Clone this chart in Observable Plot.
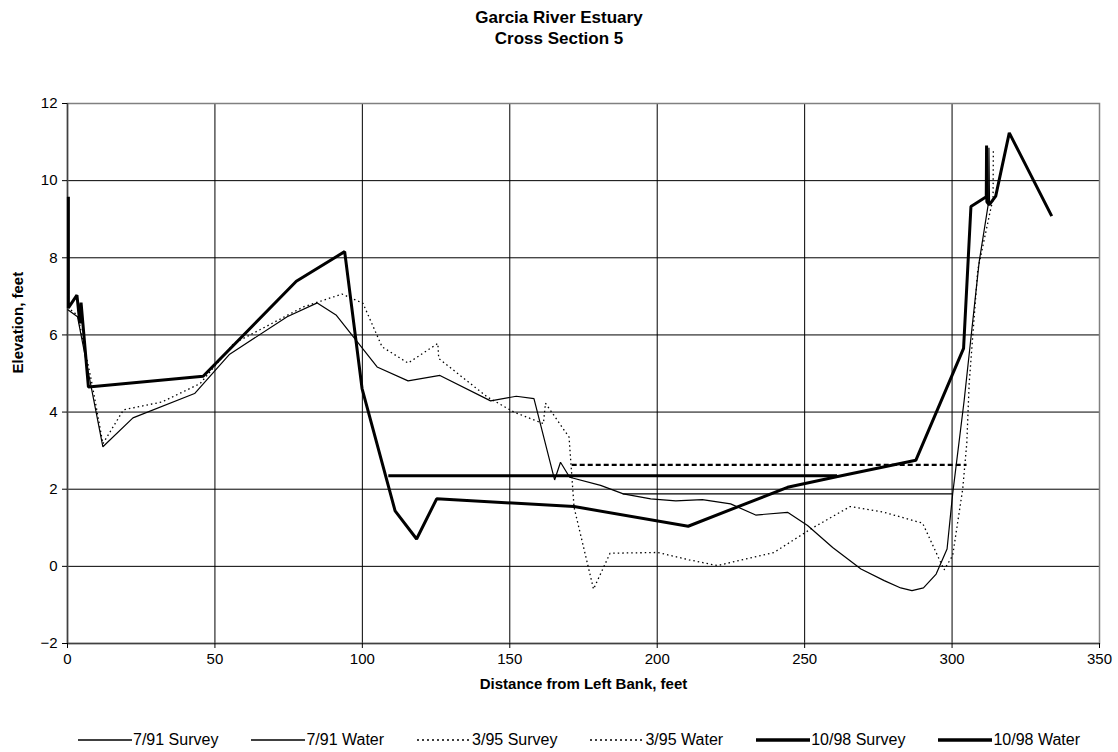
<!DOCTYPE html>
<html>
<head>
<meta charset="utf-8">
<script src="https://cdn.jsdelivr.net/npm/d3@7"></script>
<script src="https://cdn.jsdelivr.net/npm/@observablehq/plot@0.6"></script>
<style>
  html, body { margin: 0; padding: 0; background: white; }
  body { width: 1118px; height: 752px; overflow: hidden; font-family: "Liberation Sans", Arial, sans-serif; }
  #title { height: 60px; box-sizing: border-box; padding-top: 7px; text-align: center; font-weight: bold; font-size: 17px; line-height: 21px; color: black; }
  #chart svg { display: block; }
  #legend { margin-top: 29px; height: 20px; box-sizing: border-box; padding-left: 40px; display: flex; justify-content: center; align-items: center; gap: 33px; font-size: 16px; color: black; }
  .item { display: flex; align-items: center; }
  .item svg { display: block; margin-right: 1px; }
</style>
</head>
<body>
<div id="title">Garcia River Estuary<br>Cross Section 5</div>
<div id="chart"></div>
<div id="legend"></div>
<script>
// ---- data (distance ft, elevation ft) ----
const survey791 = [[0,6.66],[3.4,6.47],[12,3.1],[22.2,3.85],[43.1,4.48],[55,5.5],[74.5,6.47],[84.7,6.83],[91.2,6.51],[105,5.17],[115.5,4.81],[126.3,4.95],[143.5,4.29],[152.2,4.41],[158.2,4.35],[165.2,2.24],[167.2,2.7],[170.3,2.31],[180.8,2.1],[188.5,1.88],[197.8,1.75],[206.3,1.7],[215.3,1.73],[224.9,1.62],[233.4,1.33],[244.2,1.4],[251,1.06],[259.5,0.49],[269.1,-0.07],[277,-0.37],[282.6,-0.56],[286.4,-0.63],[290.3,-0.56],[294.6,-0.2],[298.3,0.45],[300.2,1.88],[304.1,4.3],[309.2,7.9],[312.4,9.45],[312.5,10.85],[312.7,9.4]];
const water791 = [[188.3,1.88],[300.2,1.88]];
const survey395 = [[0,6.72],[3.5,6.5],[8.3,4.74],[12,3.18],[19,4.06],[32,4.26],[45,4.74],[56.4,5.78],[80.1,6.73],[93.1,7.06],[100.2,6.82],[106.7,5.69],[115.5,5.27],[125.6,5.78],[125.9,5.39],[142.4,4.39],[151.4,4.0],[161.4,3.7],[162.1,4.23],[170.1,3.35],[171.8,1.53],[178.4,-0.59],[184,0.34],[200.1,0.36],[210.8,0.17],[220.4,0.02],[239.6,0.36],[252.1,0.97],[265.4,1.55],[277,1.4],[290,1.12],[297.3,-0.09],[300.2,0.28],[303.6,2.0],[305,3.2],[305.8,4.74],[308.7,7.68],[313.2,9.3],[313.9,9.5],[314,10.82]];
const water395 = [[171,2.63],[304.9,2.63]];
const survey1098 = [[0.3,9.58],[0.3,6.7],[3.2,7.03],[4.2,6.3],[4.6,6.84],[7.1,4.65],[46,4.93],[77.6,7.39],[94,8.16],[99.9,4.61],[111.1,1.44],[118.4,0.71],[125.2,1.75],[171.8,1.55],[210.5,1.04],[244.2,2.05],[261.2,2.33],[287.7,2.75],[303.9,5.65],[306.4,9.33],[311.6,9.58],[311.7,10.91],[311.8,9.45],[312.6,9.37],[314.8,9.6],[319.4,11.24],[333.8,9.08]];
const water1098 = [[108.8,2.35],[261,2.35]];
const xTicks = [0,50,100,150,200,250,300,350];
const yTicks = [-2,0,2,4,6,8,10,12];
const seriesNames = ["7/91 Survey","7/91 Water","3/95 Survey","3/95 Water","10/98 Survey","10/98 Water"];

// ---- styles ----
const styles = [
  {strokeWidth: 1.2},
  {strokeWidth: 1.2},
  {strokeWidth: 1.3, strokeDasharray: "1.5,3"},
  {strokeWidth: 2.2, strokeDasharray: "5,3"},
  {strokeWidth: 3},
  {strokeWidth: 3}
];
const legendStyles = [
  {w: 1.3, dash: null},
  {w: 1.3, dash: null},
  {w: 1.5, dash: "2,3"},
  {w: 1.5, dash: "2,3"},
  {w: 3.5, dash: null},
  {w: 3.5, dash: null}
];
const allSeries = [survey791, water791, survey395, water395, survey1098, water1098];

const lineMarks = allSeries.map((s, i) =>
  Plot.line(s, {x: d => d[0], y: d => d[1], stroke: "black", strokeLinejoin: "miter", strokeLinecap: "butt", ...styles[i]})
);

const chart = Plot.plot({
  width: 1118,
  height: 641,
  marginTop: 43,
  marginLeft: 67,
  marginRight: 19,
  marginBottom: 58,
  style: {fontFamily: "'Liberation Sans', Arial, sans-serif", fontSize: "15px", color: "black", background: "white"},
  x: {domain: [0, 350], label: null},
  y: {domain: [-2, 12], label: null},
  marks: [
    Plot.gridX(xTicks, {stroke: "black", strokeOpacity: 1, strokeWidth: 1}),
    Plot.gridY(yTicks, {stroke: "black", strokeOpacity: 1, strokeWidth: 1}),
    Plot.frame({stroke: "#808080", strokeWidth: 1.5}),
    Plot.ruleX([0], {stroke: "#404040", strokeWidth: 1.5}),
    Plot.ruleY([-2], {stroke: "#404040", strokeWidth: 1.5}),
    Plot.axisX(xTicks, {tickSize: 5, tickPadding: 5, fontSize: 15, label: null}),
    Plot.axisY(yTicks, {tickSize: 5, tickPadding: 5, fontSize: 15, label: null}),
    ...lineMarks,
    Plot.text(["Distance from Left Bank, feet"], {frameAnchor: "bottom", dy: 45, fontWeight: "bold", fontSize: 15}),
    Plot.text(["Elevation, feet"], {frameAnchor: "left", dx: -49, rotate: -90, fontWeight: "bold", fontSize: 15})
  ]
});
document.getElementById("chart").appendChild(chart);

// ---- legend ----
const legend = document.getElementById("legend");
seriesNames.forEach((name, i) => {
  const item = document.createElement("div");
  item.className = "item";
  const ls = legendStyles[i];
  const svg = d3.create("svg").attr("width", 54).attr("height", 10);
  svg.append("line").attr("x1", 0).attr("x2", 54).attr("y1", 5).attr("y2", 5)
    .attr("stroke", "black").attr("stroke-width", ls.w)
    .attr("stroke-dasharray", ls.dash);
  item.appendChild(svg.node());
  const span = document.createElement("span");
  span.textContent = name;
  item.appendChild(span);
  legend.appendChild(item);
});
</script>
</body>
</html>
